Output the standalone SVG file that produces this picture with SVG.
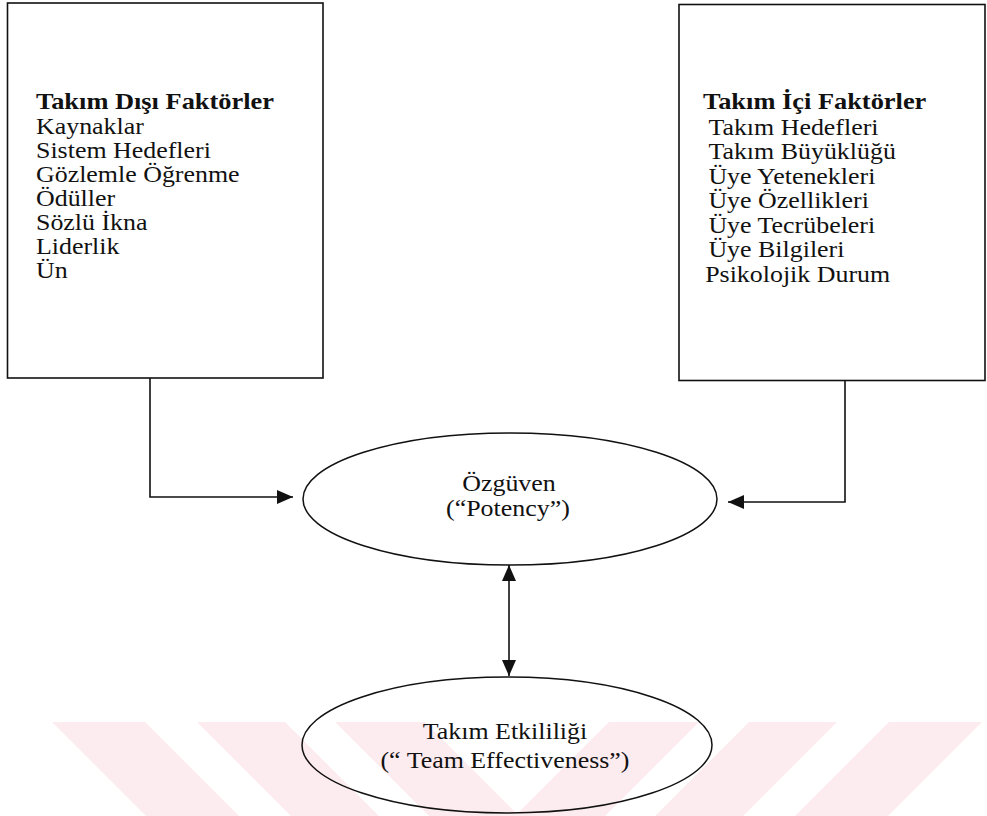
<svg xmlns="http://www.w3.org/2000/svg" width="987" height="816" viewBox="0 0 987 816">
  <style>
    .box { fill: none; stroke: #111; stroke-width: 1.6; }
    .oval { fill: none; stroke: #111; stroke-width: 1.5; }
    .wire { fill: none; stroke: #111; stroke-width: 1.6; }
    .t { font-family: "Liberation Serif", "Times New Roman", serif; font-size: 24px; fill: #111; }
    .h { font-weight: bold; }
    .c { text-anchor: middle; }
    .wm { fill: #fdecef; }
  </style>
  <defs>
    <marker id="arr" viewBox="0 0 16 14" refX="16" refY="7" markerWidth="16" markerHeight="14" markerUnits="userSpaceOnUse" orient="auto-start-reverse">
      <path d="M0,0 L16,7 L0,14 Z" fill="#111"/>
    </marker>
  </defs>

  <rect width="987" height="816" fill="#fff"/>

  <!-- pale stripe band along the bottom -->
  <g id="band">
    <polygon class="wm" points="52,722 145,722 239,816 146,816"/>
    <polygon class="wm" points="197,722 285,722 379,816 291,816"/>
    <polygon class="wm" points="335,722 425,722 519,816 429,816"/>
    <polygon class="wm" points="609,722 699,722 605,816 515,816"/>
    <polygon class="wm" points="749,722 837,722 743,816 655,816"/>
    <polygon class="wm" points="889,722 982,722 888,816 795,816"/>
  </g>

  <g id="external">
    <rect class="box" x="7.5" y="3" width="315.5" height="375"/>
    <text class="t h" transform="translate(36,0) scale(1.1,1)" x="0" y="109.5">Takım Dışı Faktörler</text>
    <g transform="translate(36,0) scale(1.08,1)">
      <text class="t" x="0" y="134">Kaynaklar</text>
      <text class="t" x="0" y="158">Sistem Hedefleri</text>
      <text class="t" x="0" y="182">Gözlemle Öğrenme</text>
      <text class="t" x="0" y="206">Ödüller</text>
      <text class="t" x="0" y="230">Sözlü İkna</text>
      <text class="t" x="0" y="254">Liderlik</text>
      <text class="t" x="0" y="278">Ün</text>
    </g>
  </g>

  <g id="internal">
    <rect class="box" x="679" y="4.5" width="306" height="376"/>
    <text class="t h" transform="translate(703,0) scale(1.1,1)" x="0" y="109.5">Takım İçi Faktörler</text>
    <g transform="translate(703,0) scale(1.08,1)">
      <text class="t" x="5" y="135">Takım Hedefleri</text>
      <text class="t" x="5" y="159">Takım Büyüklüğü</text>
      <text class="t" x="5" y="184">Üye Yetenekleri</text>
      <text class="t" x="5" y="208">Üye Özellikleri</text>
      <text class="t" x="5" y="233">Üye Tecrübeleri</text>
      <text class="t" x="5" y="257">Üye Bilgileri</text>
      <text class="t" x="2" y="282">Psikolojik Durum</text>
    </g>
  </g>

  <g id="potency">
    <ellipse class="oval" cx="510" cy="499" rx="207" ry="66"/>
    <g transform="translate(509,0) scale(1.08,1)">
      <text class="t c" x="0" y="491">Özgüven</text>
      <text class="t c" x="-1" y="516">(“Potency”)</text>
    </g>
  </g>

  <g id="effectiveness">
    <ellipse class="oval" cx="507" cy="745" rx="205" ry="68"/>
    <g transform="translate(505,0) scale(1.08,1)">
      <text class="t c" x="0" y="739">Takım Etkililiği</text>
      <text class="t c" x="0" y="768">(“ Team Effectiveness”)</text>
    </g>
  </g>

  <g id="connectors">
    <polyline class="wire" points="150,378 150,497 293,497" marker-end="url(#arr)"/>
    <polyline class="wire" points="845,381 845,502 728,502" marker-end="url(#arr)"/>
    <line class="wire" x1="509" y1="565" x2="509" y2="676" marker-start="url(#arr)" marker-end="url(#arr)"/>
  </g>
</svg>
